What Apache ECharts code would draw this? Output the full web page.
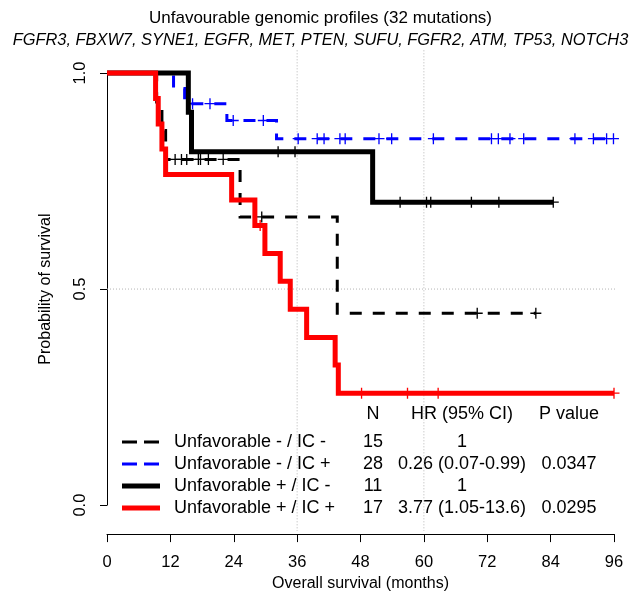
<!DOCTYPE html>
<html><head><meta charset="utf-8">
<script src="https://cdn.jsdelivr.net/npm/echarts@6/dist/echarts.min.js"></script>
<style>html,body{margin:0;padding:0;background:#fff}#c{width:641px;height:597px}</style>
</head><body><div id="c"></div>
<script>
// ---------------- data ----------------
const titleLine1 = 'Unfavourable genomic profiles (32 mutations)';
const titleLine2 = 'FGFR3, FBXW7, SYNE1, EGFR, MET, PTEN, SUFU, FGFR2, ATM, TP53, NOTCH3';
const xAxisTitle = 'Overall survival (months)';
const yAxisTitle = 'Probability of survival';

const groupNames = ['Unfavorable - / IC -', 'Unfavorable - / IC +', 'Unfavorable + / IC -', 'Unfavorable + / IC +'];
const groupN = ['15', '28', '11', '17'];
const groupHR = ['1', '0.26 (0.07-0.99)', '1', '3.77 (1.05-13.6)'];
const groupP = ['', '0.0347', '', '0.0295'];
const tableHeaders = ['N', 'HR (95% CI)', 'P value'];

// Unfavorable - / IC -  (black dashed)
const eventTimesA = [9.4, 10.4, 11.1, 25.2, 43.6];
const survivalA = [0.933, 0.867, 0.800, 0.667, 0.444];
const censorA = [12.9, 14.1, 15.1, 17.3, 17.7, 19.2, 22.0, 29.3, 70.1, 81.2];
// Unfavorable - / IC +  (blue dashed)
const eventTimesB = [12.6, 14.7, 22.7, 32.1];
const survivalB = [0.964, 0.929, 0.890, 0.848];
const censorB = [16.2, 19.5, 23.9, 29.6, 36.2, 39.8, 41.1, 44.1, 45.1, 51.5, 53.9, 61.8, 72.8, 74.1, 76.3, 78.9, 88.6, 92.1, 94.6, 95.9];
// Unfavorable + / IC -  (black solid)
const eventTimesC = [15.4, 16.0, 50.3];
const survivalC = [0.909, 0.818, 0.701];
const censorC = [32.4, 35.6, 55.5, 60.5, 61.3, 69.0, 74.2, 84.5];
// Unfavorable + / IC +  (red solid)
const eventTimesD = [9.2, 9.7, 10.4, 11.1, 23.6, 28.0, 29.9, 32.8, 34.7, 37.8, 43.2, 43.8];
const survivalD = [0.941, 0.882, 0.824, 0.765, 0.706, 0.647, 0.582, 0.518, 0.453, 0.388, 0.324, 0.259];
const censorD = [29.0, 48.2, 56.9, 62.7, 96.0];

const refLinesX = [36, 60];
const refLinesY = [0.5];

// ---------------- build ----------------
const FONT = '"Liberation Sans", Arial, Helvetica, sans-serif';
const groups = [
  {ev: eventTimesA, sv: survivalA, cs: censorA, color: '#000000', width: 3, dash: [12, 11]},
  {ev: eventTimesB, sv: survivalB, cs: censorB, color: '#0000ff', width: 3, dash: [12, 11]},
  {ev: eventTimesC, sv: survivalC, cs: censorC, color: '#000000', width: 5, dash: 'solid'},
  {ev: eventTimesD, sv: survivalD, cs: censorD, color: '#ff0000', width: 5, dash: 'solid'}
];
function survAt(ev, sv, t) {
  let s = 1;
  for (let i = 0; i < ev.length; i++) if (ev[i] <= t) s = sv[i];
  return s;
}
const plusPath = 'path://M4.4,0H5.6V4.4H10V5.6H5.6V10H4.4V5.6H0V4.4H4.4Z';

const series = [];
const yTopExt = 1.0525, yBotExt = -0.06, xLeftExt = 0, xRightExt = 99.8;
refLinesX.forEach(v => series.push({
  type: 'line', data: [[v, yTopExt], [v, yBotExt]], symbol: 'none', clip: false, silent: true, z: 1,
  lineStyle: {color: '#b4b4b4', width: 1, type: [1, 2]}, animation: false
}));
refLinesY.forEach(v => series.push({
  type: 'line', data: [[xLeftExt, v], [xRightExt, v]], symbol: 'none', clip: false, silent: true, z: 1,
  lineStyle: {color: '#b4b4b4', width: 1, type: [1, 2]}, animation: false
}));

groups.forEach((g, i) => {
  const lastT = Math.max(g.ev[g.ev.length - 1], ...g.cs);
  const pts = [[0, 1]].concat(g.ev.map((t, k) => [t, g.sv[k]]));
  pts.push([lastT, survAt(g.ev, g.sv, lastT)]);
  series.push({
    name: groupNames[i], type: 'line', step: 'end', data: pts, symbol: 'none', clip: false,
    z: 2 + i * 2, animation: false,
    lineStyle: {color: g.color, width: g.width, type: g.dash, cap: 'butt', join: 'miter'}
  });
  series.push({
    type: 'scatter', data: g.cs.map(t => [t, survAt(g.ev, g.sv, t)]), symbol: plusPath,
    symbolSize: 11, z: 3 + i * 2, animation: false, silent: true,
    itemStyle: {color: g.color, opacity: 1}
  });
});

// legend / table
const graphic = [];
const rowY0 = 442, rowGap = 22;
const colLineX0 = 122, colLineX1 = 160, colTextX = 174, colN = 373, colHR = 462, colP = 569;
const headerY = 414;
[colN, colHR, colP].forEach((x, k) => graphic.push({
  type: 'text', x: x, y: headerY,
  style: {text: tableHeaders[k], font: '18px ' + FONT, fill: '#000', align: 'center', verticalAlign: 'middle'}
}));
groups.forEach((g, i) => {
  const y = rowY0 + i * rowGap;
  graphic.push({
    type: 'line', shape: {x1: colLineX0, y1: y, x2: colLineX1, y2: y},
    style: {stroke: g.color, lineWidth: g.width === 5 ? 5 : 3, lineDash: g.dash === 'solid' ? null : [15, 7]}
  });
  graphic.push({type: 'text', x: colTextX, y: y, style: {text: groupNames[i], font: '18px ' + FONT, fill: '#000', align: 'left', verticalAlign: 'middle'}});
  graphic.push({type: 'text', x: colN, y: y, style: {text: groupN[i], font: '18px ' + FONT, fill: '#000', align: 'center', verticalAlign: 'middle'}});
  graphic.push({type: 'text', x: colHR, y: y, style: {text: groupHR[i], font: '18px ' + FONT, fill: '#000', align: 'center', verticalAlign: 'middle'}});
  graphic.push({type: 'text', x: colP, y: y, style: {text: groupP[i], font: '18px ' + FONT, fill: '#000', align: 'center', verticalAlign: 'middle'}});
});

const chart = echarts.init(document.getElementById('c'), null, {renderer: 'canvas'});
chart.setOption({
  backgroundColor: '#ffffff',
  animation: false,
  title: [
    {text: titleLine1, left: 'center', top: 5, textStyle: {fontFamily: FONT, fontSize: 17, fontWeight: 'normal', color: '#000'}},
    {text: titleLine2, left: 'center', top: 27, textStyle: {fontFamily: FONT, fontSize: 16.4, fontWeight: 'normal', fontStyle: 'italic', color: '#000'}}
  ],
  grid: {left: 107, right: 27, top: 73, bottom: 86, containLabel: false},
  xAxis: {
    type: 'value', min: 0, max: 96, interval: 12, offset: 29,
    axisLine: {show: true, onZero: false, lineStyle: {color: '#000', width: 1}},
    axisTick: {show: true, length: 8, lineStyle: {color: '#000', width: 1}},
    axisLabel: {fontFamily: FONT, fontSize: 16.5, color: '#000', margin: 20},
    splitLine: {show: false},
    name: xAxisTitle, nameLocation: 'middle', nameGap: 41,
    nameTextStyle: {fontFamily: FONT, fontSize: 16, color: '#000'}
  },
  yAxis: {
    type: 'value', min: 0, max: 1, interval: 0.5,
    axisLine: {show: true, onZero: false, lineStyle: {color: '#000', width: 1}},
    axisTick: {show: true, length: 7, lineStyle: {color: '#000', width: 1}},
    axisLabel: {fontFamily: FONT, fontSize: 16.5, color: '#000', margin: 18, rotate: 90, formatter: v => v.toFixed(1)},
    splitLine: {show: false},
    name: yAxisTitle, nameLocation: 'middle', nameGap: 53, nameRotate: 90,
    nameTextStyle: {fontFamily: FONT, fontSize: 16, color: '#000'}
  },
  graphic: graphic,
  series: series
});
</script>
</body></html>
